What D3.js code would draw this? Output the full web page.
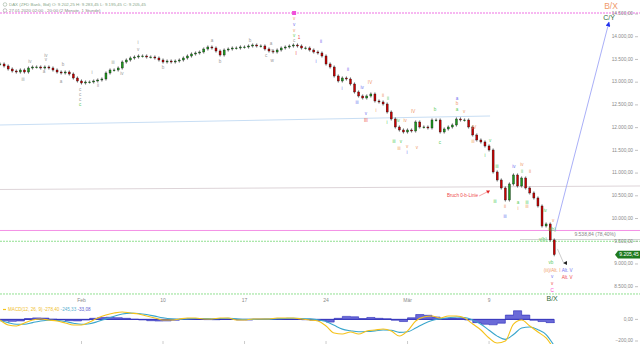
<!DOCTYPE html>
<html><head><meta charset="utf-8">
<script src="https://cdn.jsdelivr.net/npm/d3@7"></script>
<style>body{margin:0;background:#fff}svg{display:block;font-family:"Liberation Sans",Arial,sans-serif}</style>
</head><body><svg id="c" width="640" height="344"></svg>
<script>
// ---------- DATA ----------
const candleStepDays = 0.25;
const closes = [13400,13356,13290,13246,13224,13268,13224,13312,13334,13334,
13312,13334,13312,13268,13224,13202,13224,13180,13092,13026,
12982,13004,13004,13026,13048,13070,13202,13268,13268,13312,
13444,13488,13532,13554,13576,13576,13554,13554,13532,13488,
13444,13466,13444,13466,13488,13532,13576,13620,13642,13664,
13730,13774,13752,13686,13598,13708,13730,13752,13752,13774,
13774,13796,13818,13796,13796,13730,13686,13664,13708,13752,
13774,13796,13818,13796,13752,13752,13708,13664,13642,13576,
13400,13334,13136,13026,13092,13070,12960,12784,12696,12652,
12696,12740,12586,12564,12520,12344,12190,12014,11948,11904,
11948,11926,12124,12014,12014,11992,12168,12168,11904,11970,
12014,12058,12190,12168,12168,12014,11838,11728,11684,11596,
11508,11024,10848,10672,10408,10760,10958,10716,10892,10672,
10562,10452,10276,9836,9880,9528,9205];
const priceTicks = [8500,9000,9500,10000,10500,11000,11500,12000,12500,13000,13500,14000,14500];
const dateTickDays = [5,10,15,20,25,30];
const dateTickLabels = ["Feb","10","17","24","Mär","9"];
const macdStepDays = 0.5;
const macdLine = [-6,-52,-61,-33,-6,4,-6,-15,-33,-52,-52,-24,13,41,59,69,59,50,31,13,
-6,-6,4,13,13,4,4,13,13,-6,-6,4,4,4,13,13,13,4,-6,-15,
-61,-126,-135,-117,-135,-107,-98,-89,-107,-154,-107,-15,22,31,13,31,31,13,-43,-98,
-172,-219,-200,-43,-6,-61,-117,-172,-278];
const macdSignal = [-10,-30,-45,-45,-30,-15,-8,-10,-20,-35,-45,-40,-20,5,30,50,58,55,45,30,
15,5,2,5,8,8,6,8,10,5,0,0,2,3,6,9,11,9,5,-3,
-20,-55,-90,-105,-115,-112,-106,-98,-100,-120,-115,-80,-40,-10,5,15,22,18,-5,-45,
-100,-155,-185,-140,-80,-70,-95,-140,-245];
const macdHist = [-12,-18,-14,8,14,12,2,-5,-12,-14,-6,10,18,20,16,10,2,-5,-12,-15,
-14,-8,2,6,4,-2,-3,4,3,-6,-6,2,2,1,4,4,2,-3,-8,-10,
-25,10,28,24,8,18,10,6,-8,-20,15,45,38,22,8,12,10,-5,-30,-45,
-50,-35,40,80,40,-8,-20,-30,-33];
const macdTicks = [0,-200];
const lastPrice = 9205.45;
const fibPrice = 9538.84;
const magentaTop = 14522, magentaMid = 9737, greenUpper = 9500, greenLower = 8340;
const blueChannel = [[0,12058],[30.06,12256]];
const grayChannel = [[0,10639],[39.26,10716]];
const targetArrow = [[34.05,9737],[37.36,14324]];
// wave labels: [day, price, text, colourKey]
const waveLabels = [
[1.41,13048,"iii","g"],[1.84,13444,"iv","g"],[2.82,13576,"iv","g"],[2.82,13488,"v","g"],[2.70,13224,"a","g"],
[3.87,13378,"b","g"],[3.74,13004,"a","g"],[4.91,12828,"c","g"],[4.91,12718,"c","g"],[4.91,12608,"c","g"],[4.91,12498,"c","gr"],
[5.64,13202,"i","g"],[6.01,12916,"ii","g"],[6.93,13422,"iii","g"],[7.48,13180,"iv","g"],[8.47,13862,"i","g"],[8.47,13708,"v","g"],
[10.0,13312,"b","g"],[13.0,13906,"a","g"],[13.5,13444,"b","g"],[15.34,13906,"b","g"],[16.32,13576,"c","g"],[16.63,13840,"a","g"],
[16.69,13686,"x","g"],[16.69,13466,"w","g"],
[18.04,14390,"v","o"],[18.04,14258,"v","b"],[18.04,14126,"v","o"],[18.04,14016,"v","gr"],[18.04,13906,"c","g"],
[18.34,13972,"1","r"],[18.16,13620,"I","r"],[19.69,13884,"ii","b"],[19.39,13444,"i","b"],[21.35,13268,"ii","b"],
[20.98,12850,"i","b"],[22.21,12872,"iv","b"],[22.7,12982,"IV","o"],[21.9,12542,"iii","b"],[22.45,12300,"v","b"],[22.45,12146,"III","r"],
[23.5,12696,"ii","o"],[23.8,12630,"ii","gr"],[23.07,12366,"i","o"],[23.74,12102,"i","gr"],[24.42,12146,"iv","gr"],[24.85,12146,"iv","o"],
[25.34,12344,"IV","o"],[24.17,11684,"iii","gr"],[24.6,11684,"v","gr"],[24.48,11530,"iii","o"],[24.97,11574,"v","o"],[24.97,11442,"i","b"],
[25.58,11552,"v","o"],[26.69,12388,"b","gr"],[26.99,11662,"c","gr"],[28.04,12630,"a","b"],[28.04,12520,"b","o"],[28.04,12388,"a","gr"],
[28.47,12344,"v","o"],[29.08,11992,"IV","o"],[29.02,11684,"iii","o"],[30.06,11706,"v","gr"],[29.75,11376,"i","gr"],[30.49,11134,"iii","gr"],
[31.53,11134,"iv","b"],[32.02,11178,"iv","o"],[32.02,11024,"ii","gr"],[32.52,11024,"ii","o"],[30.37,10364,"iii","gr"],[30.98,10254,"ii","o"],
[30.98,10034,"iii","b"],[31.78,10342,"a","gr"],[31.78,10210,"i","o"],[32.33,10342,"iii","gr"],[32.33,10254,"iii","o"],[33.44,10166,"iv","gr"],
[33.93,9946,"v","o"],[33.87,9748,"ii(b)","gr"],[33.31,9528,"v(b)","gr"],[33.8,9022,"vb","gr"],[33.87,8846,"(iii)/Alt. I","o"],
[33.87,8714,"v","b"],[33.87,8560,"v","r"],[33.87,8406,"C","p"],[34.79,8846,"Alt. V","b"],[34.79,8692,"Alt. V","r"]
];
const bigLabels = [[37.48,14654,"B/X","o"],[37.36,14412,"C/Y","dk"],[33.87,8230,"B/X","dk"]];
const breakNote = [29.33,10496,"Bruch 0-b-Linie"];
const breakArrow = [29.94,10584];
const endMarker = [34.66,9022];
const endLink = [[34.2,9330],[34.55,9040]];
const header1 = "DAX (ZFD Bank, Bid)  O: 9.202,25  H: 9.283,45  L: 9.195,45  C: 9.205,45";
const header2 = "27.01.2020 02:00 - 20:00   (2 Monate, 1 Stunde)";
const macdLegend = ["MACD(12, 26, 9) -278,40", "-245,33", "-33,08"];

// ---------- DRAW ----------
const svg = d3.select("#c");
svg.append("rect").attr("width",640).attr("height",344).attr("fill","#fff");
const x = d3.scaleLinear().domain([0,39.26]).range([0,640]);
const y = d3.scaleLinear().domain([8500,14500]).range([286.7,14]);
const ym = d3.scaleLinear().domain([-200,0]).range([341,319.4]);
const de = d3.formatLocale({decimal:",",thousands:".",grouping:[3],currency:["","€"]});
const fmt = de.format(",.2f");
const colors = {g:"#9a9a9a",b:"#7474f0",o:"#f09a6a",gr:"#5ccc5c",r:"#ee4a4a",p:"#ff3ccf",dk:"#2f6a3a"};

function hline(p, col, dash, w){
  svg.append("line").attr("x1",0).attr("x2",640).attr("y1",y(p)).attr("y2",y(p))
    .attr("stroke",col).attr("stroke-width",w||1).attr("stroke-dasharray",dash||null);
}
hline(magentaTop,"#f070e4","2,1",1.2);
svg.append("line").attr("x1",x(blueChannel[0][0])).attr("y1",y(blueChannel[0][1]))
  .attr("x2",x(blueChannel[1][0])).attr("y2",y(blueChannel[1][1])).attr("stroke","#c8def4").attr("stroke-width",1);
svg.append("line").attr("x1",x(grayChannel[0][0])).attr("y1",y(grayChannel[0][1]))
  .attr("x2",x(grayChannel[1][0])).attr("y2",y(grayChannel[1][1])).attr("stroke","#ddd4d8").attr("stroke-width",1);
hline(magentaMid,"#f490e6",null,1);
hline(greenUpper,"#90e090","2,1",1);
hline(greenLower,"#90e090","2,1",1);
svg.append("line").attr("x1",x(31.9)).attr("x2",640).attr("y1",y(fibPrice)).attr("y2",y(fibPrice))
  .attr("stroke","#d4d4d4").attr("stroke-width",1);
svg.append("text").attr("x",595).attr("y",y(fibPrice)-3).attr("text-anchor","middle")
  .attr("font-size",5).attr("fill","#888").text(fmt(fibPrice)+" (78,40%)");

svg.append("defs").append("marker").attr("id","ah").attr("viewBox","0 0 10 10").attr("refX",9).attr("refY",5)
  .attr("markerWidth",5).attr("markerHeight",5).attr("orient","auto")
  .append("path").attr("d","M0,0L10,5L0,10z").attr("fill","#2233ee");
svg.append("line").attr("x1",x(targetArrow[0][0])).attr("y1",y(targetArrow[0][1]))
  .attr("x2",x(targetArrow[1][0])).attr("y2",y(targetArrow[1][1]))
  .attr("stroke","#aab0f8").attr("stroke-width",1).attr("marker-end","url(#ah)");

// candles
const cw = 2.0;
const cg = svg.append("g");
closes.forEach((c,i)=>{
  const o = i>0 ? closes[i-1] : c;
  const cx = x(i*candleStepDays);
  const y1 = y(Math.max(o,c)), y2 = y(Math.min(o,c));
  cg.append("line").attr("x1",cx).attr("x2",cx).attr("y1",y1-1.6).attr("y2",y2+1.6)
    .attr("stroke","#444").attr("stroke-width",0.7);
  cg.append("rect").attr("x",cx-cw/2).attr("y",y1).attr("width",cw).attr("height",Math.max(0.8,y2-y1))
    .attr("fill", c>=o ? "#1e9a1e" : "#c80000").attr("stroke","#111").attr("stroke-width",0.35);
});

svg.append("rect").attr("x",x(18.04)-2).attr("y",y(magentaTop)-2).attr("width",4).attr("height",4).attr("fill","#f050d8");

svg.append("g").selectAll("text").data(waveLabels).join("text")
  .attr("x",d=>x(d[0])).attr("y",d=>y(d[1])).attr("text-anchor","middle").attr("dominant-baseline","middle")
  .attr("font-size",4.6).attr("fill",d=>colors[d[3]]).text(d=>d[2]);
svg.append("g").selectAll("text").data(bigLabels).join("text")
  .attr("x",d=>x(d[0])).attr("y",d=>y(d[1])).attr("text-anchor","middle").attr("dominant-baseline","middle")
  .attr("font-size",d=>d[2]==="B/X"&&d[1]>10000?8.5:7).attr("fill",d=>colors[d[3]]).text(d=>d[2]);
svg.append("text").attr("x",x(breakNote[0])).attr("y",y(breakNote[1])).attr("text-anchor","end")
  .attr("dominant-baseline","middle").attr("font-size",4.6).attr("fill","#ee4a4a").text(breakNote[2]);
svg.append("line").attr("x1",x(breakNote[0])+1).attr("y1",y(breakNote[1])).attr("x2",x(breakArrow[0])-1).attr("y2",y(breakArrow[1]))
  .attr("stroke","#ee4a4a").attr("stroke-width",0.5);
svg.append("path").attr("transform",`translate(${x(breakArrow[0])},${y(breakArrow[1])})`)
  .attr("d","M-2,-1.5L2,-1.5L0,1.8z").attr("fill","#e02020");
svg.append("line").attr("x1",x(endLink[0][0])).attr("y1",y(endLink[0][1])).attr("x2",x(endLink[1][0])).attr("y2",y(endLink[1][1]))
  .attr("stroke","#aaa").attr("stroke-width",0.6);
svg.append("path").attr("transform",`translate(${x(endMarker[0])},${y(endMarker[1])})`)
  .attr("d","M-2,0L2,-2L2,2z").attr("fill","#222");

const ax = svg.append("g");
priceTicks.forEach(p=>{
  ax.append("text").attr("x",633).attr("y",y(p)).attr("text-anchor","end").attr("dominant-baseline","middle")
    .attr("font-size",4.8).attr("fill","#8a8a8a").text(fmt(p));
  ax.append("line").attr("x1",635).attr("x2",638).attr("y1",y(p)).attr("y2",y(p)).attr("stroke","#999").attr("stroke-width",0.6);
});
const ly = y(lastPrice);
svg.append("path").attr("d",`M615,${ly}L618,${ly-3.8}L640,${ly-3.8}L640,${ly+3.8}L618,${ly+3.8}Z`).attr("fill","#1f7a1f");
svg.append("text").attr("x",629).attr("y",ly).attr("text-anchor","middle").attr("dominant-baseline","middle")
  .attr("font-size",5).attr("fill","#fff").text(fmt(lastPrice));

dateTickDays.forEach((d,i)=>{
  svg.append("text").attr("x",x(d)).attr("y",300.5).attr("text-anchor","middle").attr("dominant-baseline","middle")
    .attr("font-size",5).attr("fill","#8a8a8a").text(dateTickLabels[i]);
  svg.append("line").attr("x1",x(d)).attr("x2",x(d)).attr("y1",341).attr("y2",344).attr("stroke","#aaa").attr("stroke-width",0.6);
});

svg.append("circle").attr("cx",5).attr("cy",4.5).attr("r",1.8).attr("fill","none").attr("stroke","#9ab09a").attr("stroke-width",0.6);
svg.append("text").attr("x",9).attr("y",4.5).attr("dominant-baseline","middle").attr("font-size",4.4).attr("fill","#8aa88a").text(header1);
svg.append("circle").attr("cx",5).attr("cy",10.5).attr("r",1.8).attr("fill","none").attr("stroke","#999").attr("stroke-width",0.6);
svg.append("text").attr("x",9).attr("y",10.5).attr("dominant-baseline","middle").attr("font-size",4.4).attr("fill","#888").text(header2);

svg.append("clipPath").attr("id","mc").append("rect").attr("x",0).attr("y",305).attr("width",560).attr("height",39);
const mg = svg.append("g").attr("clip-path","url(#mc)");
const mx = i=>x(i*macdStepDays);
mg.append("path").datum(macdHist)
  .attr("d",d3.area().x((d,i)=>mx(i)).y0(ym(0)).y1(d=>ym(d)).curve(d3.curveStepAfter))
  .attr("fill","#6a6ad8").attr("stroke","#2a2ab8").attr("stroke-width",0.6);
mg.append("line").attr("x1",0).attr("x2",554).attr("y1",ym(0)).attr("y2",ym(0)).attr("stroke","#2a2ab8").attr("stroke-width",0.8);
mg.append("path").datum(macdSignal).attr("d",d3.line().x((d,i)=>mx(i)).y(d=>ym(d)).curve(d3.curveMonotoneX))
  .attr("fill","none").attr("stroke","#3aa6cc").attr("stroke-width",1.1);
mg.append("path").datum(macdLine).attr("d",d3.line().x((d,i)=>mx(i)).y(d=>ym(d)).curve(d3.curveMonotoneX))
  .attr("fill","none").attr("stroke","#f5c21a").attr("stroke-width",1.1);
macdTicks.forEach(v=>{
  svg.append("text").attr("x",633).attr("y",ym(v)).attr("text-anchor","end").attr("dominant-baseline","middle")
    .attr("font-size",4.8).attr("fill","#8a8a8a").text(fmt(v));
  svg.append("line").attr("x1",635).attr("x2",638).attr("y1",ym(v)).attr("y2",ym(v)).attr("stroke","#999").attr("stroke-width",0.6);
});
svg.append("line").attr("x1",3).attr("x2",6).attr("y1",309.5).attr("y2",309.5).attr("stroke","#f5c21a").attr("stroke-width",1.2);
const lt = svg.append("text").attr("x",8).attr("y",309.5).attr("dominant-baseline","middle").attr("font-size",4.6);
lt.append("tspan").attr("fill","#f0c030").text(macdLegend[0]+" ");
lt.append("tspan").attr("fill","#5ab0d0").text(macdLegend[1]+" ");
lt.append("tspan").attr("fill","#6060d0").text(macdLegend[2]);
</script></body></html>
